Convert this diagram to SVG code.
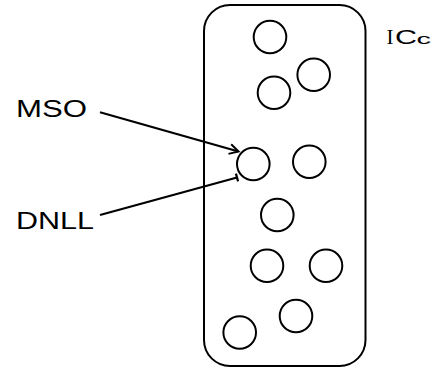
<svg xmlns="http://www.w3.org/2000/svg" width="441" height="373" viewBox="0 0 441 373">
<style>
.cell{fill:none;stroke:#000;stroke-width:2}
.box{fill:none;stroke:#000;stroke-width:2}
.lbl{font-family:"Liberation Sans",Arial,sans-serif;font-size:23px;fill:#000}
.edge{fill:none;stroke:#000;stroke-width:2.2}
</style>
<defs>
<marker id="arrow" markerWidth="12" markerHeight="12" refX="10" refY="6" orient="auto" markerUnits="userSpaceOnUse">
<path d="M1,1 L10,6 L1,11" fill="none" stroke="#000" stroke-width="2"/>
</marker>
<marker id="bar" markerWidth="12" markerHeight="12" refX="6" refY="6" orient="auto" markerUnits="userSpaceOnUse">
<path d="M6,2 L6,10" fill="none" stroke="#000" stroke-width="2.2"/>
</marker>
</defs>
<rect width="441" height="373" fill="#fff"/>
<g id="ICc">
<rect class="box" x="204" y="5" width="161.5" height="361" rx="26" ry="26"/>
<text x="386.5" y="43.7" style="font-family:'Liberation Serif','Times New Roman',serif;font-size:21px;fill:#000">I<tspan x="395" textLength="22" lengthAdjust="spacingAndGlyphs" style="font-family:'Liberation Sans',Arial,sans-serif">C</tspan><tspan x="416.5" textLength="14.5" lengthAdjust="spacingAndGlyphs" style="font-family:'Liberation Sans',Arial,sans-serif;font-size:15px">c</tspan></text>
</g>
<g id="cells">
<circle class="cell" cx="270" cy="37" r="16.3"/>
<circle class="cell" cx="313.7" cy="74.7" r="16.3"/>
<circle class="cell" cx="274" cy="92.7" r="16.3"/>
<circle class="cell" cx="309.3" cy="161.7" r="16.3"/>
<circle class="cell" cx="277.3" cy="215" r="16.3"/>
<circle class="cell" cx="267" cy="265.7" r="16.3"/>
<circle class="cell" cx="326" cy="265.7" r="16.3"/>
<circle class="cell" cx="296" cy="316" r="16.3"/>
<circle class="cell" cx="239.7" cy="332.5" r="16.3"/>
</g>
<g id="target">
<circle class="cell" cx="253.3" cy="164" r="16.3"/>
</g>
<g id="MSO">
<text class="lbl" x="16" y="117.3" textLength="71" lengthAdjust="spacingAndGlyphs">MSO</text>
</g>
<g id="DNLL">
<text class="lbl" x="16" y="228.5" textLength="78" lengthAdjust="spacingAndGlyphs">DNLL</text>
</g>
<g id="connectors">
<line class="edge" x1="100" y1="112.3" x2="238.5" y2="151.5" marker-end="url(#arrow)"/>
<line class="edge" x1="100" y1="215" x2="237" y2="177.5" marker-end="url(#bar)"/>
</g>
</svg>
